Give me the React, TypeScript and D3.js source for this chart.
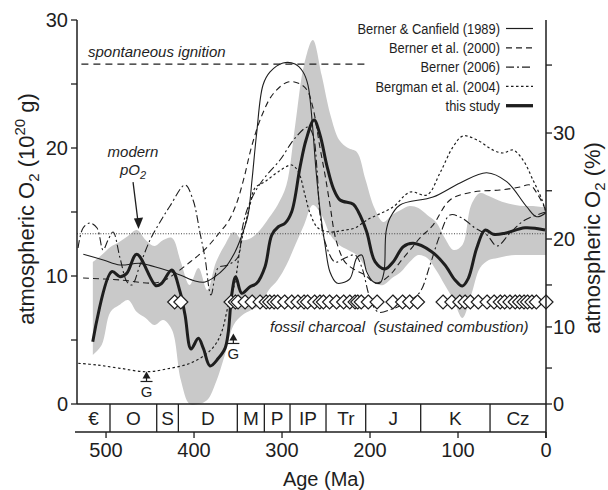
import React from "react";
import * as d3 from "d3";

// ---- data (age in Ma, O2 mass in 10^20 g) ----
const studyAge = [515.1, 493.5, 484.1, 476.5, 465.1, 443.2, 436.7, 425.3, 415.9, 410.2, 403.4, 395.1, 389.4, 381.8, 372.4, 364.8, 361.0, 357.2, 352.6, 345.8, 336.4, 328.8, 319.3, 311.7, 304.2, 296.6, 289.0, 279.5, 272.7, 263.6, 256.8, 249.2, 241.7, 234.1, 219.0, 213.3, 203.8, 194.3, 183.0, 173.5, 162.2, 150.8, 129.9, 114.8, 103.4, 95.1, 88.3, 78.8, 69.3, 59.9, 46.6, 23.9, 1.1];
const studyO2 = [4.87, 10.34, 9.95, 10.21, 11.7, 9.24, 9.43, 10.47, 8.77, 6.95, 4.3, 5.13, 4.35, 2.97, 3.57, 4.35, 5.65, 8.52, 9.95, 8.65, 9.16, 9.43, 10.73, 13.2, 13.85, 14.12, 15.02, 18.52, 20.63, 22.19, 21.02, 18.67, 16.85, 15.94, 15.6, 15.02, 13.46, 11.12, 10.55, 11.12, 12.29, 12.55, 11.9, 10.86, 9.69, 9.22, 9.82, 12.16, 13.59, 13.26, 13.34, 13.77, 13.59];

const bandAge = [515, 505, 495, 485, 475, 465, 455, 445, 435, 425, 415, 405, 395, 385, 375, 365, 355, 345, 335, 325, 315, 305, 295, 285, 275, 265, 255, 245, 235, 225, 215, 205, 195, 185, 175, 165, 155, 145, 135, 125, 115, 105, 95, 85, 75, 65, 55, 45, 35, 25, 15, 5, 0];
const bandLow = [3.83, 4.61, 7.19, 7.73, 8.13, 7.19, 6.72, 6.17, 6.56, 5.78, 1.88, 0, 0, 0.31, 1.72, 3.83, 6.17, 6.95, 7.34, 7.73, 8.91, 9.69, 10.86, 12.42, 13.98, 15.55, 14.77, 13.2, 12.42, 12.03, 11.64, 10.63, 9.45, 9.3, 9.84, 10.31, 11.09, 11.64, 11.41, 10.47, 9.3, 8.13, 6.72, 8.52, 10.63, 11.25, 11.41, 11.56, 11.64, 11.64, 11.64, 11.64, 11.64];
const bandHigh = [11.09, 11.64, 12.27, 12.66, 13.13, 13.59, 12.81, 12.34, 12.81, 12.97, 11.09, 9.3, 10.63, 8.91, 11.09, 12.42, 13.44, 12.81, 12.97, 13.59, 14.53, 15.55, 17.11, 21.8, 26.48, 28.44, 25.7, 22.58, 20.63, 20.0, 19.69, 17.5, 15.31, 14.22, 14.77, 15.16, 15.47, 15.31, 14.77, 14.22, 12.97, 12.03, 12.42, 15.55, 16.48, 16.25, 15.94, 15.7, 15.55, 15.47, 15.47, 15.39, 15.39];

const bc89Age = [525.8, 503.1, 484.1, 461.4, 438.6, 415.9, 398.9, 387.5, 378.4, 364.8, 353.4, 345.5, 338.6, 334.1, 328.8, 321.6, 313.6, 298.9, 285.2, 276.1, 270.5, 265.9, 261.4, 256.8, 251.1, 245.5, 237.8, 232.2, 222.7, 215.1, 209.4, 203.8, 196.3, 188.6, 184.1, 181.8, 177.3, 165.9, 128.4, 97.7, 67.4, 44.7, 21.9, 10.6, 0.3];
const bc89O2 = [11.7, 11.25, 10.86, 10.99, 10.6, 10.08, 9.61, 9.53, 9.84, 10.63, 11.88, 13.2, 14.77, 17.5, 21.17, 24.92, 25.94, 26.64, 26.56, 25.94, 24.92, 22.19, 18.28, 15.16, 12.42, 10.31, 9.45, 9.45, 9.8, 11.41, 11.64, 10.34, 9.55, 9.45, 10.31, 13.44, 14.53, 15.55, 16.17, 17.27, 18.07, 17.37, 15.41, 14.63, 14.92];

const b00Age = [526.1, 484.1, 446.6, 432.9, 419.3, 404.5, 393.2, 381.8, 370.5, 361.4, 352.3, 343.2, 334.1, 322.7, 310.2, 293.2, 279.5, 271.6, 264.8, 256.8, 251.1, 245.5, 238.6, 228.4, 217.0, 205.7, 193.2, 177.3, 165.9, 154.5, 143.2, 128.4, 109.1, 83.0, 52.3, 29.5, 18.2, 9.1, 0.3];
const b00O2 = [9.84, 9.69, 9.45, 9.69, 10.31, 11.09, 11.72, 12.5, 13.44, 14.22, 15.55, 17.66, 20.23, 22.58, 24.22, 25.16, 25.0, 24.53, 23.13, 20.0, 17.89, 15.55, 12.81, 11.09, 10.47, 10.08, 9.45, 10.08, 11.09, 12.03, 12.97, 13.98, 15.94, 16.56, 16.72, 16.95, 17.11, 16.33, 15.16];

const b06Age = [531.8, 526.1, 518.2, 510.2, 503.4, 497.7, 492.0, 484.1, 476.1, 470.5, 461.4, 450.0, 438.6, 427.3, 410.2, 401.1, 393.2, 387.5, 380.7, 372.7, 361.4, 350.0, 345.5, 339.8, 330.7, 319.3, 302.3, 285.2, 270.5, 264.8, 260.2, 256.8, 250.0, 239.8, 228.4, 217.0, 209.1, 200.0, 190.9, 175.0, 156.8, 143.2, 131.8, 120.5, 109.1, 95.5, 80.7, 67.0, 55.7, 40.9, 23.9, 0];
const b06O2 = [12.19, 13.75, 14.14, 13.75, 12.03, 12.81, 13.44, 11.41, 9.53, 9.3, 10.86, 12.81, 14.22, 15.47, 17.11, 15.94, 13.36, 11.41, 8.52, 10.63, 10.86, 11.48, 13.59, 15.16, 16.56, 17.73, 19.06, 20.78, 21.64, 21.02, 18.28, 14.77, 12.42, 11.09, 11.41, 11.64, 10.63, 8.28, 7.19, 7.42, 7.97, 8.75, 10.86, 13.2, 14.77, 14.53, 13.75, 13.2, 12.34, 13.36, 14.38, 15.0];

const bg04Age = [531.5, 510.6, 484.1, 453.8, 427.3, 404.5, 387.5, 376.1, 368.5, 361.0, 353.4, 347.7, 342.0, 336.4, 330.7, 319.3, 304.2, 289.0, 281.5, 273.9, 268.2, 259.1, 245.5, 228.4, 217.0, 203.4, 173.9, 154.5, 135.2, 120.5, 105.7, 94.3, 78.4, 60.2, 48.9, 37.5, 26.1, 14.8, 4.5, 0];
const bg04O2 = [3.18, 3.05, 2.79, 2.52, 2.79, 3.18, 3.83, 4.61, 5.65, 7.73, 9.55, 12.16, 13.98, 15.55, 16.88, 17.37, 18.15, 18.67, 18.15, 16.33, 14.92, 13.75, 13.44, 13.59, 13.75, 14.38, 15.39, 16.56, 16.33, 18.05, 20.08, 20.94, 20.63, 19.84, 19.61, 19.84, 19.06, 17.5, 15.94, 14.92];

const charcoalAge = [422, 415, 358, 353, 350, 342, 334, 325, 318, 314, 309, 305, 297, 289, 282, 275, 271, 263, 257, 253, 246, 238, 230, 223, 217, 214, 210, 202, 192, 174, 163, 155, 146, 117, 107, 98, 92, 86, 77, 67, 59, 52, 47, 41, 35, 30, 25, 21, 16, 11, 0];
const charcoalO2 = 7.97;

const periodNames = ["€", "O", "S", "D", "M", "P", "IP", "Tr", "J", "K", "Cz"];
const periodBounds = [533, 495.5, 442.4, 417.8, 350.8, 320.1, 290.9, 250, 204.9, 142.4, 63.6, 0];

const ageTicks = [500, 400, 300, 200, 100, 0];
const massTicks = [0, 5, 10, 15, 20, 25, 30];
const massLabels = [0, 10, 20, 30];
const pctTicks = [0, 5, 10, 15, 20, 25, 30, 35];
const pctMass = [0, 2.81, 6.02, 9.3, 12.89, 16.66, 21.17, 26.48];
const pctLabels = [0, 10, 20, 30];

const ignitionO2 = 26.55;
const ignitionAges = [528, 205];
const modernO2 = 13.3;
const gMarkAge = [454.0, 355.3];
const gMarkO2 = [2.54, 5.51];

const legendNames = ["Berner & Canfield (1989)", "Berner et al. (2000)", "Berner (2006)", "Bergman et al. (2004)", "this study"];

// ---- layout ----
const W = 608;
const H = 490;
const x = d3.scaleLinear().domain([533, 0]).range([77, 546]);
const y = d3.scaleLinear().domain([0, 30]).range([404, 20]);
const yPct = d3.scaleLinear().domain(pctTicks).range(pctMass.map((m) => y(m)));
const bandTop = 404;
const bandBottom = 432;

const ink = "#1e1e1e";
const font = "'Liberation Sans', Arial, Helvetica, sans-serif";

const styles = [
  { w: 1.1, dash: "none" },
  { w: 1.1, dash: "6,4" },
  { w: 1.1, dash: "8,3,2,3" },
  { w: 1.2, dash: "2.5,2.5" },
  { w: 3, dash: "none" },
];

const zip = (a: number[], b: number[]) => a.map((v, i) => [v, b[i]] as [number, number]);

const line = d3
  .line<[number, number]>()
  .x((d) => x(d[0]))
  .y((d) => y(d[1]))
  .curve(d3.curveCatmullRom.alpha(0.5));

const area = d3
  .area<number>()
  .x((_, i) => x(bandAge[i]))
  .y0((_, i) => y(bandLow[i]))
  .y1((_, i) => y(bandHigh[i]))
  .curve(d3.curveCatmullRom.alpha(0.5));

const series = [
  zip(bc89Age, bc89O2),
  zip(b00Age, b00O2),
  zip(b06Age, b06O2),
  zip(bg04Age, bg04O2),
  zip(studyAge, studyO2),
];

export default function App() {
  const diamond = "M0,-7L7,0L0,7L-7,0Z";
  return (
    <svg
      width={W}
      height={H}
      style={{ position: "absolute", left: 0, top: 0, background: "#fff" }}
      fontFamily={font}
      fill={ink}
    >
      {/* uncertainty envelope */}
      <path d={area(bandAge) || ""} fill="#c9c9c9" stroke="none" />

      {/* reference lines */}
      <line x1={x(533)} x2={x(0)} y1={y(modernO2)} y2={y(modernO2)} stroke="#444" strokeWidth={1} strokeDasharray="1,1.6" />
      <line x1={x(ignitionAges[0])} x2={x(ignitionAges[1])} y1={y(ignitionO2)} y2={y(ignitionO2)} stroke={ink} strokeWidth={1.2} strokeDasharray="7,5" />

      {/* model curves */}
      {series.map((s, i) => (
        <path key={i} d={line(s) || ""} fill="none" stroke={ink} strokeWidth={styles[i].w} strokeDasharray={styles[i].dash} strokeLinejoin="round" />
      ))}

      {/* fossil charcoal diamonds */}
      {charcoalAge
        .slice()
        .sort((a, b) => b - a)
        .map((a, i) => (
          <path key={i} d={diamond} transform={`translate(${x(a)},${y(charcoalO2)})`} fill="#fff" stroke={ink} strokeWidth={1.2} />
        ))}

      {/* G markers */}
      {gMarkAge.map((a, i) => {
        const cx = x(a);
        const ty = y(gMarkO2[i]);
        return (
          <g key={i}>
            <path d={`M${cx},${ty}L${cx + 4},${ty + 7}L${cx - 4},${ty + 7}Z`} fill={ink} />
            <line x1={cx} x2={cx} y1={ty + 6} y2={ty + 10} stroke={ink} strokeWidth={1.2} />
            <line x1={cx - 6} x2={cx + 6} y1={ty + 10} y2={ty + 10} stroke={ink} strokeWidth={1.2} />
            <text x={cx} y={ty + 26} textAnchor="middle" fontSize={15}>G</text>
          </g>
        );
      })}

      {/* annotations */}
      <text x={88} y={57} fontSize={15} fontStyle="italic">spontaneous ignition</text>
      <text x={133} y={157} fontSize={15} fontStyle="italic" textAnchor="middle">modern</text>
      <text x={133} y={175} fontSize={15} fontStyle="italic" textAnchor="middle">
        pO<tspan dy={4} fontSize={11}>2</tspan>
      </text>
      <line x1={x(469.3)} y1={y(17.34)} x2={x(463.4)} y2={y(14.1)} stroke={ink} strokeWidth={1.3} />
      <path d={`M${x(463.1)},${y(13.67)}l-4.6,-10.5l9.2,-1z`} fill={ink} />
      <text x={270} y={332} fontSize={15} fontStyle="italic" style={{ whiteSpace: "pre" }}>
        fossil charcoal{"\u00a0\u00a0"}(sustained combustion)
      </text>

      {/* legend */}
      {legendNames.map((name, i) => {
        const ly = 28.5 + i * 19.3;
        return (
          <g key={name}>
            <g transform={`translate(500,${ly}) scale(0.86,1)`}>
              <text x={0} y={0} dy="0.35em" textAnchor="end" fontSize={15}>{name}</text>
            </g>
            <line x1={506} x2={533} y1={ly} y2={ly} stroke={ink} strokeWidth={styles[i].w + (i === 4 ? 0.3 : 0.1)} strokeDasharray={styles[i].dash === "none" ? undefined : styles[i].dash} />
          </g>
        );
      })}

      {/* left axis */}
      <line x1={x(533)} x2={x(533)} y1={y(30)} y2={y(0)} stroke={ink} strokeWidth={1.5} />
      {massTicks.map((t) => (
        <line key={t} x1={x(533) - 6} x2={x(533)} y1={y(t)} y2={y(t)} stroke={ink} strokeWidth={1.3} />
      ))}
      {massLabels.map((t) => (
        <text key={t} x={68} y={y(t)} dy="0.36em" textAnchor="end" fontSize={20}>{t}</text>
      ))}
      <text transform="translate(34,209) rotate(-90)" textAnchor="middle" fontSize={22}>
        atmospheric O<tspan dy={5} fontSize={15}>2</tspan>
        <tspan dy={-5}> (10</tspan>
        <tspan dy={-9} fontSize={15}>20</tspan>
        <tspan dy={9}> g)</tspan>
      </text>

      {/* right axis */}
      <line x1={x(0)} x2={x(0)} y1={y(30)} y2={bandBottom + 6} stroke={ink} strokeWidth={1.5} />
      {pctTicks.map((t) => (
        <line key={t} x1={x(0)} x2={x(0) + 6} y1={yPct(t)} y2={yPct(t)} stroke={ink} strokeWidth={1.3} />
      ))}
      {pctLabels.map((t) => (
        <text key={t} x={553} y={yPct(t)} dy="0.36em" textAnchor="start" fontSize={20}>{t}</text>
      ))}
      <text transform="translate(600,238) rotate(-90)" textAnchor="middle" fontSize={22}>
        atmospheric O<tspan dy={5} fontSize={15}>2</tspan>
        <tspan dy={-5}> (%)</tspan>
      </text>

      {/* geologic time band */}
      <line x1={x(533)} x2={x(0)} y1={bandTop} y2={bandTop} stroke={ink} strokeWidth={1.5} />
      <line x1={x(533) - 2} x2={x(0)} y1={bandBottom} y2={bandBottom} stroke={ink} strokeWidth={1.5} />
      {periodBounds.slice(1, -1).map((b) => (
        <line key={b} x1={x(b)} x2={x(b)} y1={bandTop} y2={bandBottom} stroke={ink} strokeWidth={1.3} />
      ))}
      {periodNames.map((n, i) => (
        <text key={n} x={(x(periodBounds[i]) + x(periodBounds[i + 1])) / 2} y={425} textAnchor="middle" fontSize={19}>{n}</text>
      ))}

      {/* bottom axis */}
      {ageTicks.map((t) => (
        <g key={t}>
          <line x1={x(t)} x2={x(t)} y1={bandBottom} y2={bandBottom + 6} stroke={ink} strokeWidth={1.3} />
          <text x={x(t)} y={457} textAnchor="middle" fontSize={20}>{t}</text>
        </g>
      ))}
      <text x={324} y={486} textAnchor="middle" fontSize={20}>Age (Ma)</text>
    </svg>
  );
}
